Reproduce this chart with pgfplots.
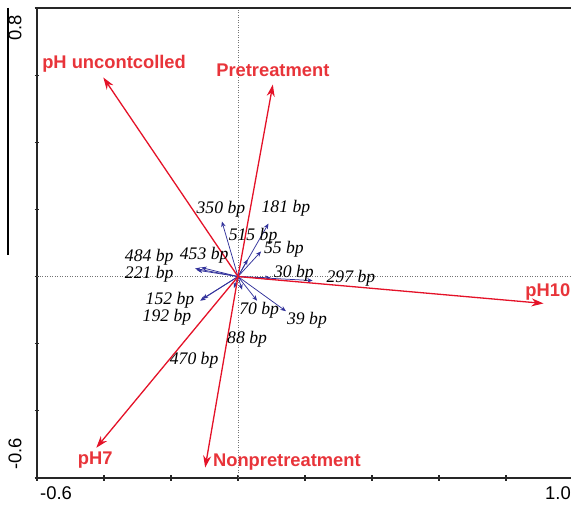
\documentclass[border=0pt]{standalone}
\usepackage{fontspec}
\setmainfont{Liberation Sans}
\newfontfamily\serif{Liberation Serif}
\usepackage{pgfplots}
\pgfplotsset{compat=1.18}
\usetikzlibrary{arrows.meta}
\definecolor{rarrow}{RGB}{228,18,40}
\definecolor{rtext}{RGB}{232,52,58}
\definecolor{barrow}{RGB}{50,50,155}
\newcommand{\bpl}[1]{{\serif\itshape\fontsize{17.7}{19}\selectfont #1}}
\newcommand{\rl}[1]{{\bfseries\fontsize{18.4}{20}\selectfont\color{rtext}#1}}
\begin{document}
\begin{tikzpicture}
\begin{axis}[
 scale only axis, width=536bp, height=470bp,
 xmin=-0.6,xmax=1.0,ymin=-0.6,ymax=0.8,
 xtick={-0.6,-0.4,-0.2,0,0.2,0.4,0.6,0.8,1.0},
 ytick={-0.6,-0.4,-0.2,0,0.2,0.4,0.6,0.8},
 xticklabels={}, yticklabels={},
 tick pos=left, tick align=center, major tick length=5bp,
 axis line style={line width=1.5bp, black!85},
 every tick/.style={line width=1.2bp, black!85},
 clip=false,
]
\coordinate (ll) at (rel axis cs:0,0);
\coordinate (ur) at (rel axis cs:1,1);
\draw[gray!90!black, line width=0.75bp, dash pattern=on 1bp off 1.5bp] (axis cs:0,-0.6) -- (axis cs:0,0.8);
\draw[gray!90!black, line width=0.75bp, dash pattern=on 1bp off 1.5bp] (axis cs:-0.6,0) -- (axis cs:1.0,0);
% blue arrows
\pgfplotsset{bar/.style={barrow, line width=0.75bp, -{Stealth[length=5.5bp,width=4.5bp]}}}
\addplot[bar] coordinates {(0,0) (-0.048,0.164)};
\addplot[bar] coordinates {(0,0) (0.091,0.158)};
\addplot[bar] coordinates {(0,0) (0.029,0.051)};
\addplot[bar] coordinates {(0,0) (0.069,0.075)};
\addplot[bar] coordinates {(0,0) (-0.110,0.027)};
\addplot[bar] coordinates {(0,0) (-0.128,0.024)};
\addplot[bar] coordinates {(0,0) (-0.122,0.019)};
\addplot[bar] coordinates {(0,0) (-0.113,-0.072)};
\addplot[bar] coordinates {(0,0) (-0.106,-0.066)};
\addplot[bar] coordinates {(0,0) (-0.012,-0.034)};
\addplot[bar] coordinates {(0,0) (0.012,-0.039)};
\addplot[bar] coordinates {(0,0) (0.057,-0.072)};
\addplot[bar] coordinates {(0,0) (0.143,-0.103)};
\addplot[bar] coordinates {(0,0) (0.098,-0.004)};
\addplot[bar] coordinates {(0,0) (0.223,-0.012)};
% red arrows
\pgfplotsset{rar/.style={rarrow, line width=1.3bp, -{Stealth[length=12bp,width=8bp]}}}
\addplot[rar] coordinates {(0,0) (-0.402,0.593)};
\addplot[rar] coordinates {(0,0) (0.104,0.572)};
\addplot[rar] coordinates {(0,0) (0.912,-0.080)};
\addplot[rar] coordinates {(0,0) (-0.423,-0.510)};
\addplot[rar] coordinates {(0,0) (-0.098,-0.569)};
% blue labels
\node at (axis cs:-0.051,0.200) {\bpl{350 bp}};
\node at (axis cs:0.143,0.203) {\bpl{181 bp}};
\node at (axis cs:0.045,0.119) {\bpl{515 bp}};
\node at (axis cs:0.137,0.080) {\bpl{55 bp}};
\node at (axis cs:-0.101,0.063) {\bpl{453 bp}};
\node at (axis cs:-0.265,0.057) {\bpl{484 bp}};
\node at (axis cs:-0.265,0.006) {\bpl{221 bp}};
\node at (axis cs:-0.203,-0.070) {\bpl{152 bp}};
\node at (axis cs:-0.212,-0.122) {\bpl{192 bp}};
\node at (axis cs:-0.131,-0.248) {\bpl{470 bp}};
\node at (axis cs:0.027,-0.188) {\bpl{88 bp}};
\node at (axis cs:0.063,-0.101) {\bpl{70 bp}};
\node at (axis cs:0.206,-0.131) {\bpl{39 bp}};
\node at (axis cs:0.167,0.009) {\bpl{30 bp}};
\node at (axis cs:0.337,-0.006) {\bpl{297 bp}};
% red labels
\node at (axis cs:-0.370,0.635) {\rl{pH uncontcolled}};
\node at (axis cs:0.104,0.614) {\rl{Pretreatment}};
\node at (axis cs:0.925,-0.045) {\rl{pH10}};
\node at (axis cs:-0.426,-0.548) {\rl{pH7}};
\node at (axis cs:0.146,-0.554) {\rl{Nonpretreatment}};
\end{axis}
\pgfresetboundingbox
\path[use as bounding box] ([shift={(-37bp,-30bp)}]ll) rectangle ([shift={(-2bp,8bp)}]ur);
\draw[line width=1.2bp, black] ([shift={(-29bp,470bp)}]ll) -- ([shift={(-29bp,223bp)}]ll);
\node[rotate=90, anchor=east, inner sep=0pt, font=\fontsize{18.5}{20}\selectfont] at ([shift={(-22bp,463bp)}]ll) {0.8};
\node[rotate=90, anchor=west, inner sep=0pt, font=\fontsize{18.5}{20}\selectfont] at ([shift={(-22bp,8bp)}]ll) {-0.6};
\node[anchor=north west, inner sep=0pt, font=\fontsize{18.5}{20}\selectfont] at ([shift={(3bp,-8bp)}]ll) {-0.6};
\node[anchor=north east, inner sep=0pt, font=\fontsize{18.5}{20}\selectfont] at ([shift={(534bp,-8bp)}]ll) {1.0};
\end{tikzpicture}
\end{document}
